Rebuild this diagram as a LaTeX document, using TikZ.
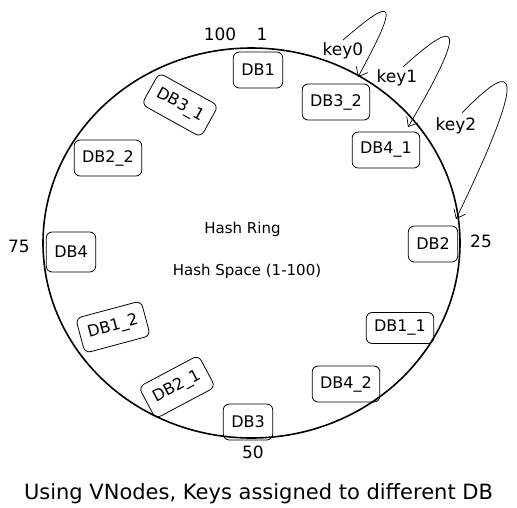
\documentclass[tikz,border=0pt]{standalone}
\usepackage{fontspec}
\setmainfont{DejaVu Sans}
\usetikzlibrary{arrows.meta}
\begin{document}
\begin{tikzpicture}[x=1pt,y=1pt,
  db/.style={draw, rounded corners=6pt, line width=0.8pt, minimum height=36pt,
    inner xsep=8pt, font=\fontsize{16}{19}\selectfont},
  lbl/.style={anchor=base, inner sep=0pt, font=\fontsize{17}{20}\selectfont},
  hashtxt/.style={anchor=base, inner sep=0pt, font=\fontsize{15}{18}\selectfont},
  keyarrow/.style={line width=0.7pt, -{Straight Barb[length=8pt,width=13pt,line width=0.7pt]}}]
\useasboundingbox (0,0) rectangle (517,-507);
% ring
\draw[line width=1.6pt] (251.5,-243) ellipse [x radius=208.5, y radius=195];
% DB nodes
\node[db] (db1)  at (258,-70)  {DB1};
\node[db] (db32) at (336,-102) {DB3\_2};
\node[db] (db41) at (386,-150) {DB4\_1};
\node[db] (db2)  at (433,-244) {DB2};
\node[db, minimum height=31pt] (db11) at (400,-328) {DB1\_1};
\node[db] (db42) at (346,-384) {DB4\_2};
\node[db] (db3)  at (248,-422) {DB3};
\node[db, rotate=28] (db21) at (177,-387) {DB2\_1};
\node[db, rotate=15] (db12) at (113,-327) {DB1\_2};
\node[db, minimum height=40pt] (db4) at (71,-252) {DB4};
\node[db] (db22) at (108,-158) {DB2\_2};
\node[db, rotate=-29] (db31) at (180,-105) {DB3\_1};
% position labels
\node[lbl] (l100) at (220,-40) {100};
\node[lbl] (l1)   at (262,-40) {1};
\node[lbl] (l25)  at (481,-247) {25};
\node[lbl] (l75)  at (19,-252) {75};
\node[lbl] (l50)  at (253,-458) {50};
% keys
\node[lbl] (key0) at (343,-55) {key0};
\node[lbl] (key1) at (397,-82) {key1};
\node[lbl] (key2) at (456,-130) {key2};
% key arrow ends on ring
\coordinate (k0s) at (343,-40);
\coordinate (k0e) at (358,-77);
\coordinate (k1s) at (403,-67);
\coordinate (k1e) at (408,-127);
\coordinate (k2s) at (462,-113);
\coordinate (k2e) at (456,-219);
\draw[keyarrow] (k0s) .. controls (395,5) and (400,0) .. (k0e);
\draw[keyarrow] (k1s) .. controls (460,-15) and (468,-25) .. (k1e);
\draw[keyarrow] (k2s) .. controls (518,-55) and (528,-70) .. (k2e);
% centre texts
\node[hashtxt] (ring) at (242.5,-233) {Hash Ring};
\node[hashtxt] (space) at (247,-275) {Hash Space (1-100)};
% caption
\node[anchor=base, inner sep=0pt, font=\fontsize{21}{25}\selectfont] (cap) at (258.5,-499)
  {Using VNodes, Keys assigned to different DB};
\end{tikzpicture}
\end{document}
